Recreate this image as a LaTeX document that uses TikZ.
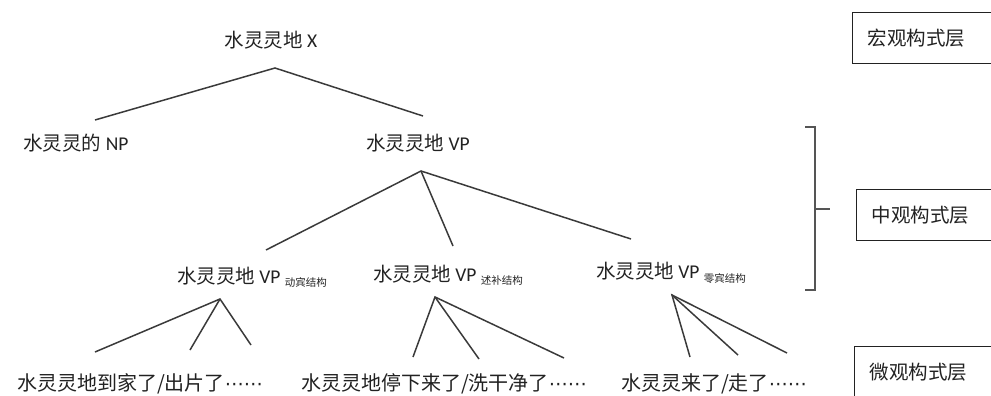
\documentclass[tikz,border=0pt]{standalone}
\usepackage{fontspec}
\setmainfont{Noto Sans CJK SC}
\newfontfamily\latfont{Carlito}
\newfontfamily\symfont{DejaVu Sans}
\newcommand\lt[1]{{\latfont #1}}
\newcommand\elldots{{\symfont\fontsize{19}{19}\selectfont ⋯⋯}}
\newcommand\sub[1]{\raisebox{-3.5pt}{\fontsize{10.5}{11}\selectfont #1}}
\definecolor{ink}{HTML}{222222}
\definecolor{edge}{HTML}{3A3A3A}
\definecolor{brk}{HTML}{555555}
\begin{document}
\begin{tikzpicture}[x=1pt,y=-1pt,
  lbl/.style={inner sep=0pt, text=ink, font=\fontsize{19.5}{22}\selectfont},
  leaf/.style={inner sep=0pt, text=ink, font=\fontsize{20}{22}\selectfont},
  tl/.style={draw=edge, line width=1.5pt},
  layerbox/.style={draw=ink, line width=1.1pt, anchor=north west, minimum height=51pt,
    text width=124pt, inner xsep=15pt, align=left, text=ink, font=\fontsize{19.5}{22}\selectfont}]
\useasboundingbox (0,0) rectangle (991,396);
\clip (0,0) rectangle (991,396);
% tree labels
\node[lbl] (root) at (271,40) {水灵灵地 \lt{X}};
\node[lbl] (np) at (76,143) {水灵灵的 \lt{NP}};
\node[lbl] (vp) at (418,143) {水灵灵地 \lt{VP}};
\node[lbl] (vp1) at (252,277) {水灵灵地 \lt{VP} \sub{动宾结构}};
\node[lbl] (vp2) at (448,275) {水灵灵地 \lt{VP} \sub{述补结构}};
\node[lbl] (vp3) at (671,273) {水灵灵地 \lt{VP} \sub{零宾结构}};
\node[leaf] (ex1) at (140,384) {水灵灵地到家了/出片了\elldots};
\node[leaf] (ex2) at (444,384) {水灵灵地停下来了/洗干净了\elldots};
\node[leaf] (ex3) at (714,384) {水灵灵来了/走了\elldots};
% connector points
\coordinate (r0) at (275,68);
\coordinate (r1) at (95,120);
\coordinate (r2) at (423,116);
\coordinate (v0) at (421,171);
\coordinate (v1) at (266,250);
\coordinate (v2) at (453,246);
\coordinate (v3) at (631,239);
\coordinate (a0) at (220,299);
\coordinate (a1) at (95,352);
\coordinate (a2) at (190,350);
\coordinate (a3) at (251,345);
\coordinate (b0) at (435,297);
\coordinate (b1) at (413,357);
\coordinate (b2) at (479,359);
\coordinate (b3) at (564,358);
\coordinate (c0) at (672,295);
\coordinate (c1) at (690,357);
\coordinate (c2) at (738,355);
\coordinate (c3) at (787,353);
\draw[tl] (r1) -- (r0) -- (r2);
\draw[tl] (v1) -- (v0) -- (v3);
\draw[tl] (v0) -- (v2);
\draw[tl] (a1) -- (a0) -- (a3);
\draw[tl] (a0) -- (a2);
\draw[tl] (b1) -- (b0) -- (b3);
\draw[tl] (b0) -- (b2);
\draw[tl] (c1) -- (c0) -- (c3);
\draw[tl] (c0) -- (c2);
% bracket
\coordinate (k1) at (805,127);
\coordinate (k2) at (805,290);
\coordinate (km) at (815,209);
\coordinate (kt) at (830,209);
\draw[draw=brk, line width=1.3pt] (k1) -- (815,127) -- (815,290) -- (k2);
\draw[draw=brk, line width=1.3pt] (km) -- (kt);
% layer boxes
\node[layerbox] (macro) at (852,12) {宏观构式层};
\node[layerbox] (meso) at (856,189) {中观构式层};
\node[layerbox] (micro) at (854,346) {微观构式层};
\end{tikzpicture}
\end{document}
